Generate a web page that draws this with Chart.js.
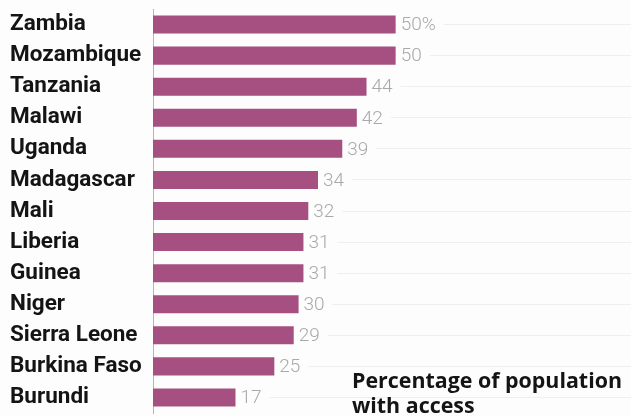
<!DOCTYPE html>
<html>
<head>
<meta charset="utf-8">
<script src="https://cdn.jsdelivr.net/npm/chart.js@4"></script>
<style>
  html, body { margin: 0; padding: 0; background: #fdfdfd; }
  #wrap { width: 631px; height: 416px; position: relative; }
</style>
</head>
<body>
<div id="wrap"><canvas id="chart"></canvas></div>
<script>
let countries = ['Zambia', 'Mozambique', 'Tanzania', 'Malawi', 'Uganda', 'Madagascar', 'Mali',
    'Liberia', 'Guinea', 'Niger', 'Sierra Leone', 'Burkina Faso', 'Burundi']
let access = [50, 50, 44, 42, 39, 34, 32, 31, 31, 30, 29, 25, 17]
let noteLines = ['Percentage of population', 'with access']
let bgColor = '#fdfdfd'

// value next to the end of each bar, first one carries the unit
const valueLabels = {
    id: 'valueLabels',
    afterDatasetsDraw(chart) {
        const ctx = chart.ctx
        const meta = chart.getDatasetMeta(0)
        ctx.save()
        ctx.font = '300 19px Roboto'
        ctx.textBaseline = 'middle'
        meta.data.forEach((bar, i) => {
            let txt = access[i] + (i === 0 ? '%' : '')
            let w = ctx.measureText(txt).width
            ctx.fillStyle = bgColor
            ctx.fillRect(bar.x + 1, bar.y - 9, w + 12, 18)
            ctx.fillStyle = '#a9a9a9'
            ctx.fillText(txt, bar.x + 5, bar.y + 1)
        })
        ctx.restore()
    }
}

const note = {
    id: 'note',
    afterDraw(chart) {
        const ctx = chart.ctx
        ctx.save()
        ctx.font = 'bold 21.4px "Open Sans"'
        ctx.fillStyle = '#141414'
        ctx.textBaseline = 'alphabetic'
        ctx.fillText(noteLines[0], 352, 388)
        ctx.fillText(noteLines[1], 352, 413)
        ctx.restore()
    }
}

const data = {
    labels: countries,
    datasets: [{
        data: access,
        backgroundColor: '#a65081',
        borderWidth: 0,
        barPercentage: 0.58,
        categoryPercentage: 1
    }]
}

const config = {
    type: 'bar',
    data: data,
    options: {
        indexAxis: 'y',
        responsive: true,
        maintainAspectRatio: false,
        animation: false,
        layout: { padding: { top: 9, bottom: 3, left: 10, right: 0 } },
        scales: {
            x: {
                display: false,
                min: 0,
                max: 98.5
            },
            y: {
                // fixed label column, no extra room above/below the bars
                afterFit: scale => {
                    scale.width = 143
                    scale.paddingTop = 0
                    scale.paddingBottom = 0
                },
                grid: {
                    offset: false,
                    color: '#efefef',
                    drawTicks: false
                },
                border: { color: '#b5b5b5', width: 1 },
                ticks: {
                    crossAlign: 'far',
                    color: '#141414',
                    padding: 4,
                    font: { family: 'Roboto', size: 22.5, weight: 'bold' }
                }
            }
        },
        plugins: {
            legend: { display: false },
            tooltip: { enabled: false }
        }
    },
    plugins: [valueLabels, note]
}

let myChart = new Chart(document.getElementById('chart'), config)
</script>
</body>
</html>
